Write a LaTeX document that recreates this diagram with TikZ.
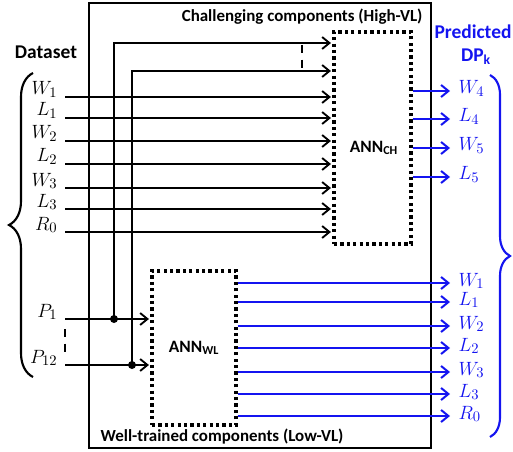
\documentclass[tikz,border=0pt]{standalone}
\usepackage{fontspec}
\setmainfont{Carlito}
\usetikzlibrary{arrows.meta,positioning,calc,decorations.pathreplacing}
\definecolor{Ink}{HTML}{000000}
\definecolor{OutBlue}{HTML}{1414F0}
\tikzset{
  frame/.style={draw=Ink,line width=2.2pt},
  ann/.style={draw=Ink,line width=2.6pt,dash pattern=on 2.4pt off 2.4pt,inner sep=0pt},
  annlabel/.style={font=\fontsize{13}{15}\selectfont\bfseries,text=Ink},
  title/.style={font=\fontsize{12.7}{15}\selectfont\bfseries,text=Ink,inner sep=1pt},
  bigtitle/.style={font=\fontsize{14.6}{17}\selectfont\bfseries,text=Ink,inner sep=1pt},
  var/.style={font=\fontsize{15.5}{17}\selectfont,text=Ink,inner sep=1pt},
  outvar/.style={var,text=OutBlue},
  arr/.style={-{Straight Barb[length=5.5pt,width=9pt]},draw=Ink,line width=1.4pt},
  outarr/.style={-{Straight Barb[length=5.5pt,width=9pt]},draw=OutBlue,line width=1.5pt},
  gap/.style={draw=Ink,line width=1.8pt,dash pattern=on 6pt off 5pt},
  dot/.style={circle,fill=Ink,inner sep=0pt,minimum size=6pt},
  brace/.style={decorate,decoration={brace,amplitude=#1},line width=1.6pt}
}

\begin{document}
\begin{tikzpicture}[x=0.75pt,y=-0.75pt]
  \useasboundingbox (0,0) rectangle (513,452);
  \draw[frame] (89,3) rectangle (431,448);

  % the two networks
  \node[ann,minimum width=57.75pt,minimum height=159pt] (annch) at (372.5,138) {};
  \node[annlabel] (chname) at (374,148) {ANN\textsubscript{CH}};
  \node[ann,minimum width=63pt,minimum height=115.5pt,annlabel] (annwl) at (194,348) {ANN\textsubscript{WL}};

  % titles
  \node[title,anchor=east] (chtitle) at (424,17) {Challenging components (High-VL)};
  \node[title,anchor=west] (wltitle) at (99,437) {Well-trained components (Low-VL)};
  \node[bigtitle] (dataset) at (46,52) {Dataset};
  \node[bigtitle,text=OutBlue] (predicted) at (473,32) {Predicted};
  \node[bigtitle,text=OutBlue] (dpk) at (476,57) {DP\textsubscript{k}};

  % dataset inputs
  \foreach \lab/\yy [count=\i] in {W_1/97,L_1/118,W_2/141,L_2/164,W_3/188,L_3/209,R_0/232}{
    \node[var,anchor=base east] (in\i) at (59,\yy-2) {$\lab$};
    \draw[arr] ($(in\i.base east)+(6,2)$) coordinate (s\i) -- ([xshift=-1pt]s\i -| annch.west);
  }
  \node[var,anchor=base east] (p1) at (59,317) {$P_1$};
  \node[var,anchor=base east] (p12) at (59,363) {$P_{12}$};
  \draw[arr] ($(p1.base east)+(6,2)$) coordinate (sp1) -- ([xshift=-1pt]sp1 -| annwl.west);
  \draw[arr] ($(p12.base east)+(6,2)$) coordinate (sp12) -- ([xshift=-1pt]sp12 -| annwl.west);
  \draw[gap] (65,329) -- (65,352);

  % P values also fed to the upper network
  \node[dot] (d1) at (114,319) {};
  \node[dot] (d2) at (132,365) {};
  \coordinate (t1) at (114,43);
  \coordinate (t2) at (132,71);
  \draw[arr] (d1.center) -- (t1) -- ([xshift=-1pt]t1 -| annch.west);
  \draw[arr] (d2.center) -- (t2) -- ([xshift=-1pt]t2 -| annch.west);
  \draw[gap] (302,45) -- (302,68);

  % predicted outputs
  \foreach \lab/\yy [count=\i] in {W_4/91,L_4/119,W_5/148,L_5/177}{
    \node[outvar,anchor=base west] (ch\i) at (457,\yy+3) {$\lab$};
    \draw[outarr] (annch.east |- 0,\yy) -- ($(ch\i.base west)+(-7,-3)$);
  }
  \foreach \lab/\yy [count=\i] in {W_1/283,L_1/302,W_2/326,L_2/348,W_3/372,L_3/394,R_0/416}{
    \node[outvar,anchor=base west] (wl\i) at (457,\yy+3) {$\lab$};
    \draw[outarr] (annwl.east |- 0,\yy) -- ($(wl\i.base west)+(-7,-3)$);
  }

  % braces
  \draw[brace=18pt,draw=Ink] (33,377) -- (33,73);
  \draw[brace=15pt,draw=OutBlue] (490,75) -- (490,437);
\end{tikzpicture}
\end{document}
